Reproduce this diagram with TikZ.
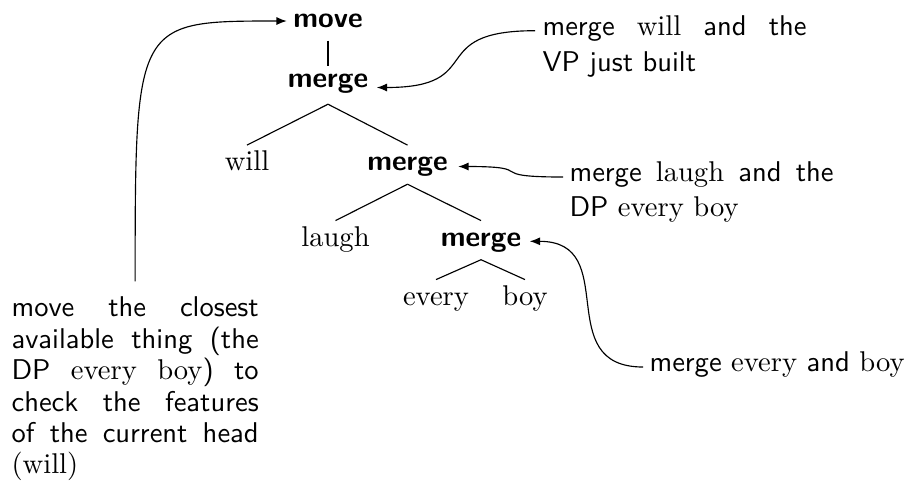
\documentclass[tikz,border=0pt]{standalone}
\usetikzlibrary{arrows.meta}
\begin{document}
\begin{tikzpicture}[x=0.35pt,y=-0.35pt,
  tn/.style={inner sep=0pt, text height=8.7pt, text depth=4.6pt, anchor=base},
  op/.style={tn, font=\sffamily\bfseries},
  wd/.style={tn, font=\rmfamily},
  note/.style={inner sep=0pt, anchor=base west, font=\sffamily},
  treeedge/.style={line width=0.4pt},
  arr/.style={-{Latex[length=3.6pt,width=2.8pt]}, line width=0.4pt}]
\useasboundingbox (0,0) rectangle (911,494);
% tree
\node[op] (mv) at (328,27) {move};
\node[op] (m1) at (328,87.5) {merge};
\node[wd] (will) at (247,170.5) {will};
\node[op] (m2) at (407.5,170.5) {merge};
\node[wd] (laugh) at (335.5,246) {laugh};
\node[op] (m3) at (481,246) {merge};
\node[wd] (every) at (436,305) {every};
\node[wd] (boy) at (525,305) {boy};
\draw[line width=0.8pt] (mv.south) -- ([shift={(0,4)}]m1.north);
\draw[treeedge] ([shift={(0,3)}]m1.south) -- (will.north);
\draw[treeedge] ([shift={(0,3)}]m1.south) -- (m2.north);
\draw[treeedge] (m2.south) -- (laugh.north);
\draw[treeedge] (m2.south) -- (m3.north);
\draw[treeedge] (m3.south) -- (every.north);
\draw[treeedge] (m3.south) -- (boy.north);
% notes
\node[note] (n1) at (542,35.7) {\parbox[t]{92.4pt}{\fontsize{10}{12.4}\selectfont merge \textrm{will} and the\linebreak VP just built}};
\node[note] (n2) at (569,181) {\parbox[t]{92.4pt}{\fontsize{10}{12.4}\selectfont merge \textrm{laugh} and the\linebreak DP \textrm{every boy}}};
\node[note] (n3) at (649,371) {merge \textrm{every} and \textrm{boy}};
\node[note] (lb) at (11,316.7) {\parbox[t]{86.5pt}{\fontsize{10}{11}\selectfont move the closest\linebreak available thing (the\linebreak DP \textrm{every boy}) to\linebreak check the features\linebreak of the current head\linebreak \textrm{(will)}}};
% connectors
\draw[arr] ([shift={(-7,-5)}]n1.base west) to[out=180,in=0,looseness=1.7] ([shift={(8,0)}]m1.base east);
\draw[arr] ([shift={(-6,-4)}]n2.base west) to[out=180,in=0,looseness=2] ([shift={(10,-4)}]m2.base east);
\draw[arr] ([shift={(-6,-4)}]n3.base west) to[out=180,in=0,looseness=1.4] ([shift={(8,-4.7)}]m3.base east);
\coordinate (ls) at ([shift={(0,-15)}]lb.north);
\coordinate (le) at ([shift={(-6,-6)}]mv.base west);
\draw[arr] (ls) .. controls (ls |- le) .. (le);
\end{tikzpicture}
\end{document}
